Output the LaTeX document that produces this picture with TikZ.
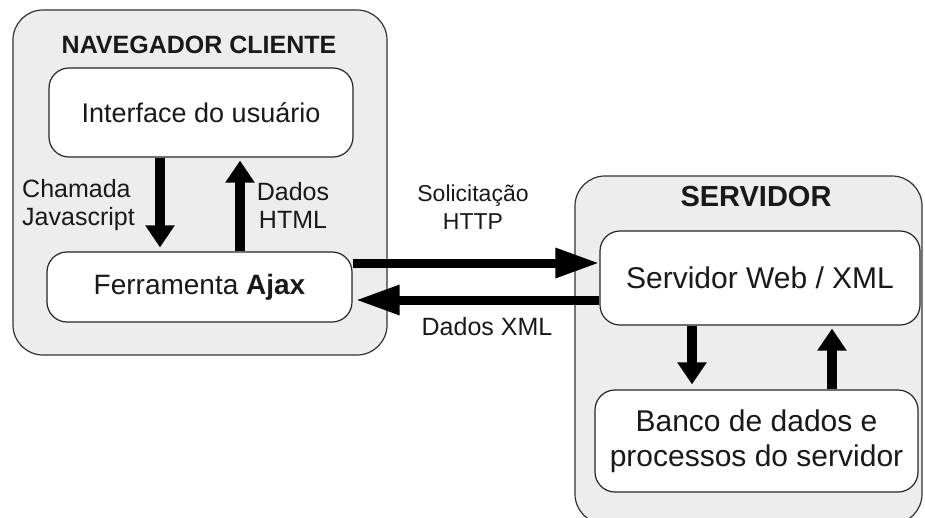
\documentclass[tikz,border=0pt]{standalone}
\usepackage{fontspec}
\setmainfont{Liberation Sans}
\usetikzlibrary{arrows.meta}
\newcommand{\txtsize}[2]{\fontsize{#1}{#2}\selectfont}
\tikzset{
	outerbox/.style={draw=black!80, fill=black!7, line width=1.2pt, rounded corners=30pt},
	innerbox/.style={draw=black!85, fill=white, line width=1.2pt, rounded corners=20pt, inner sep=0pt, align=center, text=black!90},
	lbl/.style={inner sep=0pt, text=black!90},
	hflow/.style={line width=9pt, -{Triangle[length=44pt,width=28pt]}},
	vflow/.style={line width=10pt, -{Triangle[length=22pt,width=28pt]}},
}
\begin{document}
\begin{tikzpicture}[x=1pt,y=-1pt]
				\useasboundingbox (0,0) rectangle (925,517);
				\clip (0,0) rectangle (925,517);
				\draw[outerbox] (13,10) rectangle (387,355);
				\draw[outerbox] (575,176) rectangle (922,524);
				\node[lbl, font={\bfseries\txtsize{25}{30}}] (client) at (199,45) {NAVEGADOR CLIENTE};
				\node[lbl, font={\bfseries\txtsize{29}{34}}] (server) at (756,197) {SERVIDOR};
				\node[innerbox, minimum width=304pt, minimum height=89pt, font=\txtsize{27}{32}] (ui) at (201,112.5) {Interface do usuário};
				\node[innerbox, minimum width=305pt, minimum height=70pt, font=\txtsize{28}{32}] (ajax) at (199.5,287) {Ferramenta \textbf{Ajax}};
				\node[innerbox, minimum width=320pt, minimum height=94pt, font=\txtsize{30}{34}] (web) at (760,278) {Servidor Web / XML};
				\node[innerbox, minimum width=323pt, minimum height=102pt, font=\txtsize{30}{35}] (db) at (756.5,441) {Banco de dados e\\processos do servidor};
				\node[lbl, anchor=west, align=left, font=\txtsize{25}{28}] (call) at (22,205) {Chamada\\Javascript};
				\node[lbl, align=center, font=\txtsize{25}{28}] (html) at (293,205) {Dados\\HTML};
				\node[lbl, align=center, font=\txtsize{23}{28}] (req) at (473,207) {Solicitação\\HTTP};
				\node[lbl, font=\txtsize{25}{30}] (xml) at (487,327) {Dados XML};
				\draw[vflow, shorten >=4pt] (ui.south -| 160,0) to (ajax.north -| 160,0);
				\draw[vflow, shorten >=3pt] (ajax.north -| 240,0) to (ui.south -| 240,0);
				\draw[hflow] (ajax.east |- 0,263) to (web.west |- 0,263);
				\draw[hflow, shorten >=3pt] (web.west |- 0,300) to (ajax.east |- 0,300);
				\draw[vflow, shorten >=5pt] (web.south -| 692,0) to (db.north -| 692,0);
				\draw[vflow, shorten >=3pt] (db.north -| 832,0) to (web.south -| 832,0);
\end{tikzpicture}
\end{document}
